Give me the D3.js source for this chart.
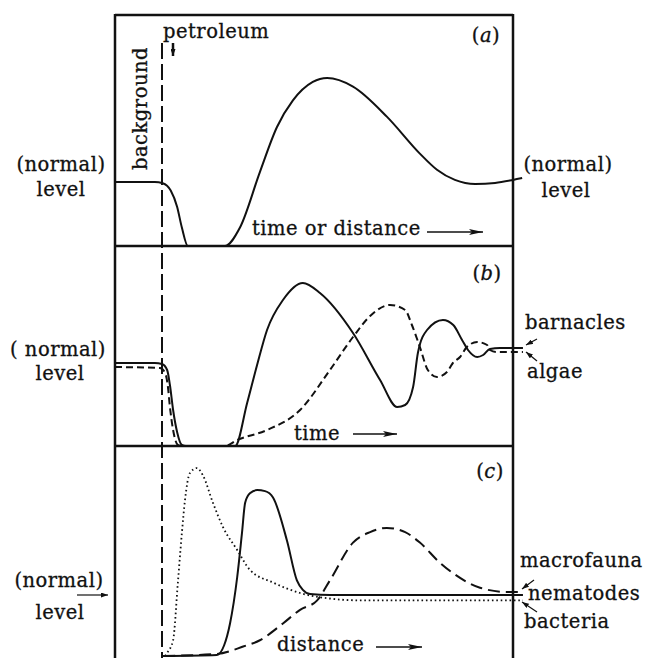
<!DOCTYPE html>
<html>
<head>
<meta charset="utf-8">
<script src="https://cdn.jsdelivr.net/npm/d3@7"></script>
<style>
  body { margin: 0; background: #fff; }
  text { font-family: "DejaVu Serif", serif; font-size: 19.5px; letter-spacing: 0.5px;
         fill: #111; stroke: #111; stroke-width: 0.3px; }
</style>
</head>
<body>
<svg id="chart"></svg>
<script>
// values: [time or distance (0-100), level (0-100 of panel height)]
const seriesA = [[0,27.7],[10,27.7],[12,27.2],[14,24],[15.6,17],[16.8,8],[18.3,0],[27.6,0],[31.4,8],
  [36.4,32],[40.7,51.5],[44.7,63],[49.7,71],[53.3,72.7],[59.8,69],[68.3,56],[76.6,40],[80.9,33],
  [85.4,28.6],[90.5,26.8],[95.5,27.3],[100,28.6],[102.3,29.4]];

const barnacles = [[0,41.5],[10,41.5],[11.8,41],[13.1,38],[13.8,30.5],[14.6,18],[15.6,7],[16.8,0.5],
  [17.8,0],[30.2,0],[33.2,21.5],[35.7,40.5],[38.2,58],[42.2,73],[47.2,81.5],[51.5,76.5],[59.8,56.5],
  [66.6,33],[70.9,19.5],[72.9,20.5],[74.9,29.5],[76.1,46.5],[78.4,58],[82.4,63],[85,60.5],[87.2,53],
  [88.7,48],[91,44.5],[92.5,45.5],[94.2,48.5],[96.7,49],[102.5,49]];

const algae = [[0,39.5],[11.3,39],[12.6,36.5],[13.3,29.5],[13.8,19.5],[14.6,8],[15.8,0.5],[16.8,0],
  [27.6,0],[30.7,3],[38.2,8],[46.5,18],[54,38],[59.8,54.5],[64.1,65],[69.1,70.5],[72.9,68],[74.6,60.5],
  [76.6,49.5],[78.6,38],[80.9,34.5],[83.4,37],[84.9,41.5],[86.7,44.5],[88.4,49.5],[91,52],[93.5,50.5],
  [94.2,48],[96,47],[102.5,47]];

const bacteria = [[12.6,0],[13.1,1.5],[14.6,7.5],[15.8,35],[16.8,58.5],[17.6,74.5],[18.8,87],[20.6,89.5],
  [22.1,86],[24.6,73],[27.1,61.5],[30.7,50.5],[33.9,41],[39.7,35],[46.5,30],[53.3,27.5],[61.6,26.5],
  [76.6,26.5],[91.7,26.5],[102.5,26.5]];

const nematodes = [[12.1,0],[25.6,0.5],[27.4,5],[28.9,15.5],[30.7,37.5],[31.9,58.5],[32.7,73],[33.9,77.5],
  [35.7,79],[37.7,78.5],[39.7,75.5],[43.2,55],[45.7,36],[47.2,31.5],[49,29.5],[54,29],[102.5,29]];

const macrofauna = [[12.1,0],[25.6,1],[32.2,4.5],[36.4,7.5],[42.2,15.5],[46.5,22],[50.8,26.5],[54,36],
  [59.8,54],[64.1,59],[68.3,61],[72.9,59],[76.6,54],[81.6,44.5],[84.9,39.5],[91.7,32.5],[98.5,30.5],
  [102.5,30.5]];

const W = 647, H = 658;
const svg = d3.select('#chart').attr('width', W).attr('height', H);
svg.append('rect').attr('width', W).attr('height', H).attr('fill', '#fff');

const frame = { left: 115, right: 513, top: 15, b1: 246, b2: 446, bottom: 656 };
const x = d3.scaleLinear().domain([0, 100]).range([frame.left, frame.right]);
const yA = d3.scaleLinear().domain([0, 100]).range([frame.b1, frame.top]);
const yB = d3.scaleLinear().domain([0, 100]).range([frame.b2, frame.b1]);
const yC = d3.scaleLinear().domain([0, 100]).range([frame.bottom, frame.b2]);

const ink = '#111';

// arrow heads
const defs = svg.append('defs');
defs.append('marker').attr('id', 'longHead')
  .attr('viewBox', '0 0 14 6').attr('refX', 14).attr('refY', 3)
  .attr('markerWidth', 14).attr('markerHeight', 6).attr('markerUnits', 'userSpaceOnUse')
  .attr('orient', 'auto')
  .append('path').attr('d', 'M0,0 L14,3 L0,6 L3,3 Z').attr('fill', ink);
defs.append('marker').attr('id', 'smallHead')
  .attr('viewBox', '0 0 7 5').attr('refX', 7).attr('refY', 2.5)
  .attr('markerWidth', 7).attr('markerHeight', 5).attr('markerUnits', 'userSpaceOnUse')
  .attr('orient', 'auto')
  .append('path').attr('d', 'M0,0 L7,2.5 L0,5 Z').attr('fill', ink);

// frame
const fr = svg.append('g').attr('stroke', ink).attr('stroke-width', 2.5).attr('fill', 'none');
fr.append('line').attr('x1', frame.left).attr('x2', frame.left).attr('y1', frame.top - 1).attr('y2', H);
fr.append('line').attr('x1', frame.right).attr('x2', frame.right).attr('y1', frame.top - 1).attr('y2', H);
[frame.top, frame.b1, frame.b2].forEach(yy => {
  fr.append('line').attr('x1', frame.left).attr('x2', frame.right).attr('y1', yy).attr('y2', yy);
});

// background / petroleum divider
svg.append('line')
  .attr('x1', 162).attr('x2', 162).attr('y1', 43).attr('y2', H)
  .attr('stroke', ink).attr('stroke-width', 2).attr('stroke-dasharray', '16,5');

const line = yScale => d3.line()
  .x(d => x(d[0])).y(d => yScale(d[1]))
  .curve(d3.curveMonotoneX);

function drawCurve(data, yScale, dash, width) {
  svg.append('path')
    .datum(data)
    .attr('d', line(yScale))
    .attr('fill', 'none')
    .attr('stroke', ink)
    .attr('stroke-width', width || 2)
    .attr('stroke-dasharray', dash || null);
}

drawCurve(seriesA, yA);
drawCurve(algae, yB, '7,4');
drawCurve(barnacles, yB);
drawCurve(bacteria, yC, '1.6,2.8', 1.8);
drawCurve(macrofauna, yC, '12,6');
drawCurve(nematodes, yC);

// texts
function label(txt, xx, yy, anchor) {
  return svg.append('text').attr('x', xx).attr('y', yy)
    .attr('text-anchor', anchor || 'start').text(txt);
}
function arrow(x1, y1, x2, y2, head, w) {
  svg.append('line').attr('x1', x1).attr('y1', y1).attr('x2', x2).attr('y2', y2)
    .attr('stroke', ink).attr('stroke-width', w || 1.5)
    .attr('marker-end', `url(#${head})`);
}
function panelTag(letter, xx, yy) {
  const t = svg.append('text').attr('x', xx).attr('y', yy).attr('text-anchor', 'middle');
  t.append('tspan').text('(');
  t.append('tspan').attr('font-style', 'italic').text(letter);
  t.append('tspan').text(')');
}

// panel a
label('petroleum', 163, 38);
arrow(173, 43, 173, 56, 'smallHead', 2.5);
svg.append('text').attr('transform', 'translate(147,170) rotate(-90)').text('background');
label('(normal)', 61, 171, 'middle');
label('level', 61, 196, 'middle');
label('(normal)', 568, 171, 'middle');
label('level', 566, 197, 'middle');
panelTag('a', 486, 42);
label('time or distance', 252, 235);
arrow(427, 232, 483, 232, 'longHead', 1.5);

// panel b
label('( normal)', 58, 356, 'middle');
label('level', 60, 380, 'middle');
panelTag('b', 487, 280);
label('barnacles', 525, 329);
label('algae', 527, 378);
arrow(537, 339, 526, 345, 'smallHead', 1.2);
arrow(537, 361, 526, 352, 'smallHead', 1.2);
label('time', 294, 440);
arrow(353, 434, 397, 434, 'longHead', 1.5);

// panel c
label('(normal)', 59, 587, 'middle');
arrow(77, 595, 108, 595, 'smallHead', 1.2);
label('level', 60, 619, 'middle');
panelTag('c', 490, 478);
label('macrofauna', 520, 567);
label('nematodes', 528, 600);
label('bacteria', 524, 628);
arrow(534, 580, 522, 589, 'smallHead', 1.2);
arrow(537, 612, 522, 602, 'smallHead', 1.2);
label('distance', 277, 651);
arrow(376, 647, 422, 647, 'longHead', 1.5);
</script>
</body>
</html>
